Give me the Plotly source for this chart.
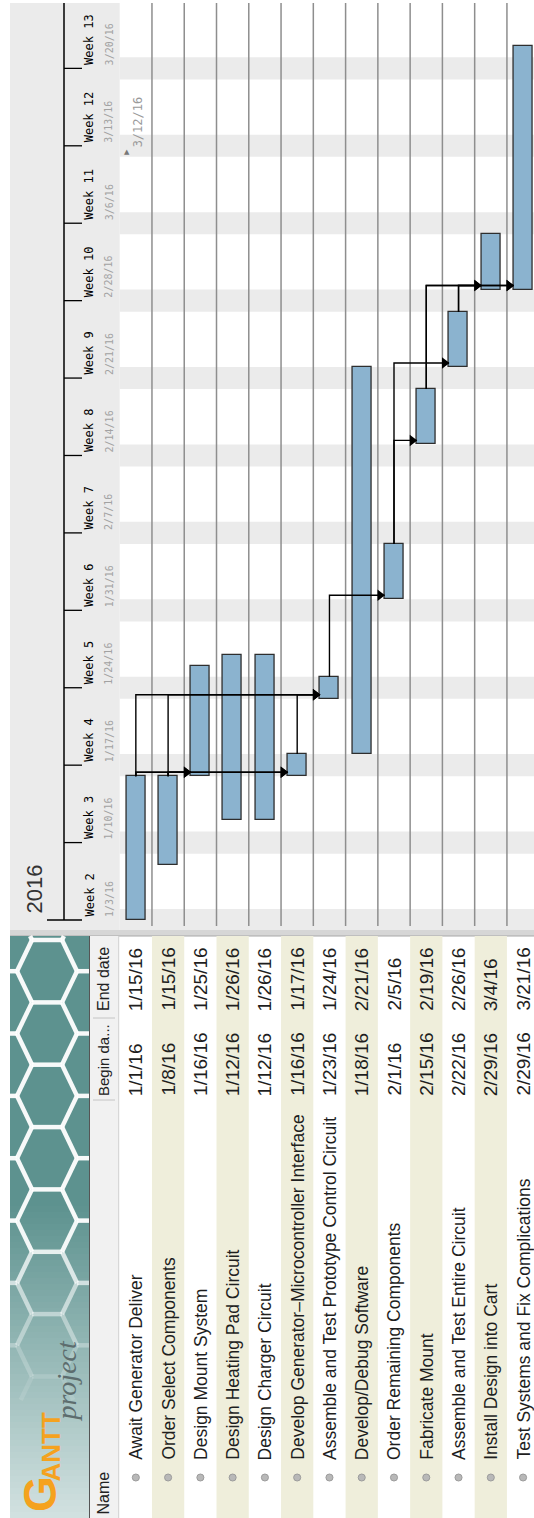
import numpy as np
import pandas as pd
import plotly.graph_objects as go

# ---------------- data ----------------
task_names = [
    "Await Generator Deliver",
    "Order Select Components",
    "Design Mount System",
    "Design Heating Pad Circuit",
    "Design Charger Circuit",
    "Develop Generator\u2013Microcontroller Interface",
    "Assemble and Test Prototype Control Circuit",
    "Develop/Debug Software",
    "Order Remaining Components",
    "Fabricate Mount",
    "Assemble and Test Entire Circuit",
    "Install Design into Cart",
    "Test Systems and Fix Complications",
]
begin_labels = ["1/1/16", "1/8/16", "1/16/16", "1/12/16", "1/12/16", "1/16/16", "1/23/16",
                "1/18/16", "2/1/16", "2/15/16", "2/22/16", "2/29/16", "2/29/16"]
end_labels = ["1/15/16", "1/15/16", "1/25/16", "1/26/16", "1/26/16", "1/17/16", "1/24/16",
              "2/21/16", "2/5/16", "2/19/16", "2/26/16", "3/4/16", "3/21/16"]
begin_dates = ["2016-01-01", "2016-01-08", "2016-01-16", "2016-01-12", "2016-01-12", "2016-01-16",
               "2016-01-23", "2016-01-18", "2016-02-01", "2016-02-15", "2016-02-22", "2016-02-29",
               "2016-02-29"]
end_dates = ["2016-01-15", "2016-01-15", "2016-01-25", "2016-01-26", "2016-01-26", "2016-01-17",
             "2016-01-24", "2016-02-21", "2016-02-05", "2016-02-19", "2016-02-26", "2016-03-04",
             "2016-03-21"]
dep_from = [0, 1, 0, 1, 0, 1, 5, 6, 8, 8, 9, 9, 10, 10]
dep_to = [2, 2, 5, 5, 6, 6, 6, 8, 9, 10, 11, 12, 11, 12]

week_starts = ["2016-01-03", "2016-01-10", "2016-01-17", "2016-01-24", "2016-01-31", "2016-02-07",
               "2016-02-14", "2016-02-21", "2016-02-28", "2016-03-06", "2016-03-13", "2016-03-20"]
week_numbers = [2, 3, 4, 5, 6, 7, 8, 9, 10, 11, 12, 13]
week_date_labels = ["1/3/16", "1/10/16", "1/17/16", "1/24/16", "1/31/16", "2/7/16", "2/14/16",
                    "2/21/16", "2/28/16", "3/6/16", "3/13/16", "3/20/16"]
year_label = "2016"
marker_date = "2016-03-12"
marker_label = "3/12/16"
view_start = "2016-01-03"
column_headers = ["Name", "Begin da...", "End date"]

# ---------------- geometry ----------------
W, H = 534, 1518
PX_DAY = 11.06
ROW_W = 32.27
CHART_LEFT = 119.7
CHART_TOP = 3
CHART_BOTTOM = 930
VIEW_PY = 920


def P(v):
    return v / W


def Q(v):
    return 1 - v / H


FMT = "%Y-%m-%d %H:%M:%S"
vs = pd.Timestamp(view_start)
y_lo = vs - pd.Timedelta(days=(CHART_BOTTOM - VIEW_PY) / PX_DAY)
y_hi = vs + pd.Timedelta(days=(VIEW_PY - CHART_TOP) / PX_DAY)

n = len(task_names)
rows = list(range(n))
starts = pd.to_datetime(begin_dates)
ends = pd.to_datetime(end_dates) + pd.Timedelta(days=1)
vis_starts = [max(s, vs) for s in starts]
dur_ms = [(e - s).total_seconds() * 1000 for s, e in zip(vis_starts, ends)]
half_w = 19 / ROW_W / 2

fig = go.Figure()

fig.add_trace(go.Bar(
    x=rows, y=dur_ms, base=[s.strftime(FMT) for s in vis_starts],
    width=2 * half_w,
    marker=dict(color="#8bb3cf", line=dict(color="#2e2e2e", width=1.3)),
    hoverinfo="skip",
))

# dependency lines
lx, ly, ax, ay = [], [], [], []
for p, s in zip(dep_from, dep_to):
    level = starts[s] + pd.Timedelta(hours=8.7)
    lx += [p, p, s - half_w, None]
    ly += [ends[p].strftime(FMT), level.strftime(FMT), level.strftime(FMT), None]
    ax.append(s - half_w - 4.5 / ROW_W)
    ay.append(level.strftime(FMT))
fig.add_trace(go.Scatter(x=lx, y=ly, mode="lines", line=dict(color="black", width=1.4),
                         hoverinfo="skip"))
fig.add_trace(go.Scatter(x=ax, y=ay, mode="markers",
                         marker=dict(symbol="triangle-right", size=10, color="black"),
                         hoverinfo="skip"))

shapes = []
# header background
shapes.append(dict(type="rect", xref="paper", yref="paper", x0=P(10), x1=P(CHART_LEFT),
                   y0=Q(CHART_BOTTOM), y1=Q(CHART_TOP), fillcolor="#ebebeb", line_width=0,
                   layer="below"))
# weekend bands
sat = pd.Timestamp("2016-01-02")
while sat < y_hi:
    shapes.append(dict(type="rect", xref="paper", yref="y", x0=P(CHART_LEFT), x1=1,
                       y0=max(sat, y_lo).strftime(FMT),
                       y1=min(sat + pd.Timedelta(days=2), y_hi).strftime(FMT),
                       fillcolor="#ebebeb", line_width=0, layer="below"))
    sat += pd.Timedelta(days=7)
# row separators
for i in range(n - 1):
    shapes.append(dict(type="line", xref="x", yref="paper", x0=i + 0.5, x1=i + 0.5,
                       y0=Q(CHART_BOTTOM - 4), y1=Q(CHART_TOP), line=dict(color="#8e8e8e", width=1.5),
                       layer="below"))
# timeline header lines
shapes.append(dict(type="line", xref="paper", yref="paper", x0=P(64), x1=P(64),
                   y0=Q(VIEW_PY), y1=Q(CHART_TOP), line=dict(color="black", width=1.5)))
for d in week_starts[1:]:
    shapes.append(dict(type="line", xref="paper", yref="y", x0=P(64), x1=P(82), y0=d, y1=d,
                       line=dict(color="black", width=1.3)))
shapes.append(dict(type="line", xref="paper", yref="y", x0=P(47), x1=P(82), y0=view_start,
                   y1=view_start, line=dict(color="black", width=1.3)))

# divider between chart and table
shapes.append(dict(type="rect", xref="paper", yref="paper", x0=P(10), x1=1, y0=Q(936), y1=Q(930),
                   fillcolor="#d6d6d6", line_width=0))
shapes.append(dict(type="line", xref="paper", yref="paper", x0=P(10), x1=1, y0=Q(936), y1=Q(936),
                   line=dict(color="#a8a8a8", width=1)))

# table: logo background gradient
c0 = np.array([93, 146, 143])
c1 = np.array([212, 227, 226])
for p0 in range(936, 1518, 6):
    t = 0.0 if p0 < 1200 else min(1.0, (p0 - 1200) / (1518 - 1200))
    c = (c0 + (c1 - c0) * t).astype(int)
    shapes.append(dict(type="rect", xref="paper", yref="paper", x0=P(10), x1=P(89),
                       y0=Q(min(p0 + 6.5, H)), y1=Q(p0), fillcolor=f"rgb({c[0]},{c[1]},{c[2]})",
                       line_width=0))


# honeycomb decoration
def clip(x0, y0, x1, y1, xmin, xmax, ymin, ymax):
    dx, dy = x1 - x0, y1 - y0
    u0, u1 = 0.0, 1.0
    for pp, qq in ((-dx, x0 - xmin), (dx, xmax - x0), (-dy, y0 - ymin), (dy, ymax - y0)):
        if pp == 0:
            if qq < 0:
                return None
        else:
            r = qq / pp
            if pp < 0:
                u0 = max(u0, r)
            else:
                u1 = min(u1, r)
    if u0 > u1:
        return None
    return x0 + u0 * dx, y0 + u0 * dy, x0 + u1 * dx, y0 + u1 * dy


RX, RY = 30, 36
edges = set()
for col in range(-1, 4):
    for rw in range(-1, 9):
        cx = 2 + col * 1.5 * RX
        cy = 940 + rw * np.sqrt(3) * RY + (col % 2) * np.sqrt(3) * RY / 2
        pts = [(round(cx + RX * np.cos(np.pi / 3 * k), 1), round(cy + RY * np.sin(np.pi / 3 * k), 1))
               for k in range(6)]
        for k in range(6):
            edges.add(tuple(sorted([pts[k], pts[(k + 1) % 6]])))
for (a, b) in edges:
    seg = clip(a[0], a[1], b[0], b[1], 10, 89, 936, 1400)
    if seg is None:
        continue
    x0, y0, x1, y1 = seg
    if abs(x1 - x0) + abs(y1 - y0) < 1:
        continue
    mid = (y0 + y1) / 2
    alpha = 0.95 if mid < 1230 else max(0.12, 0.95 - (mid - 1230) / 180)
    shapes.append(dict(type="line", xref="paper", yref="paper", x0=P(x0), x1=P(x1), y0=Q(y0),
                       y1=Q(y1), line=dict(color=f"rgba(255,255,255,{alpha:.2f})", width=4.5)))

shapes.append(dict(type="line", xref="paper", yref="paper", x0=P(89.5), x1=P(89.5), y0=0, y1=Q(936),
                   line=dict(color="#555555", width=1)))
# header column
shapes.append(dict(type="rect", xref="paper", yref="paper", x0=P(90), x1=P(CHART_LEFT - 1),
                   y0=0, y1=Q(936), fillcolor="#f1f1f1", line_width=0))
shapes.append(dict(type="line", xref="paper", yref="paper", x0=P(CHART_LEFT - 1), x1=P(CHART_LEFT - 1),
                   y0=0, y1=Q(936), line=dict(color="#d0d0d0", width=1)))
for sep in (1100, 1018):
    shapes.append(dict(type="line", xref="paper", yref="paper", x0=P(93), x1=P(115), y0=Q(sep),
                       y1=Q(sep), line=dict(color="#c4c4c4", width=1)))
# alternating row backgrounds
for i in range(n):
    if i % 2 == 1:
        shapes.append(dict(type="rect", xref="x", yref="paper", x0=i - 0.5, x1=i + 0.5, y0=0,
                           y1=Q(936), fillcolor="#efeedb", line_width=0))
# bullets
for i in range(n):
    shapes.append(dict(type="circle", xref="x", yref="paper", x0=i - 0.11, x1=i + 0.11,
                       y0=Q(1481), y1=Q(1474), fillcolor="#b8b8b8", line=dict(color="#9c9c9c", width=1)))

annotations = []
SANS = "Liberation Sans, Arial, sans-serif"
MONO = "DejaVu Sans Mono, monospace"
# week labels
for d, wn, dl in zip(week_starts, week_numbers, week_date_labels):
    annotations.append(dict(xref="paper", yref="y", x=P(89), y=d, text=f"Week {wn}", showarrow=False,
                            textangle=-90, xanchor="center", yanchor="bottom", yshift=1,
                            font=dict(family=MONO, size=12, color="#000000")))
    annotations.append(dict(xref="paper", yref="y", x=P(109), y=d, text=dl, showarrow=False,
                            textangle=-90, xanchor="center", yanchor="bottom", yshift=1,
                            font=dict(family=MONO, size=10, color="#a2a2a2")))
annotations.append(dict(xref="paper", yref="paper", x=P(34), y=Q(916), text=year_label, showarrow=False,
                        textangle=-90, xanchor="center", yanchor="bottom",
                        font=dict(family=SANS, size=22, color="#333333")))
# marker
annotations.append(dict(xref="paper", yref="y", x=P(127), y=marker_date, text="\u25b2", showarrow=False,
                        xanchor="center", yanchor="middle", yshift=5,
                        font=dict(family="DejaVu Sans", size=7, color="#777777")))
annotations.append(dict(xref="paper", yref="y", x=P(138), y=marker_date, text=marker_label, showarrow=False,
                        textangle=-90, xanchor="center", yanchor="bottom", yshift=7,
                        font=dict(family=MONO, size=12, color="#9a9a9a")))
# column headers
for txt, base, fs in zip(column_headers, (1517, 1098, 1013), (16, 15, 16)):
    annotations.append(dict(xref="paper", yref="paper", x=P(103), y=Q(base), text=txt, showarrow=False,
                            textangle=-90, xanchor="center", yanchor="bottom",
                            font=dict(family=SANS, size=fs, color="#222222")))
# table rows
for i in range(n):
    annotations.append(dict(xref="x", yref="paper", x=i, y=Q(1462), text=task_names[i], showarrow=False,
                            textangle=-90, xanchor="center", yanchor="bottom",
                            font=dict(family=SANS, size=17.5, color="#1e1e1e")))
    annotations.append(dict(xref="x", yref="paper", x=i, y=Q(1098), text=begin_labels[i], showarrow=False,
                            textangle=-90, xanchor="center", yanchor="bottom",
                            font=dict(family=SANS, size=19, color="#1e1e1e")))
    annotations.append(dict(xref="x", yref="paper", x=i, y=Q(1013), text=end_labels[i], showarrow=False,
                            textangle=-90, xanchor="center", yanchor="bottom",
                            font=dict(family=SANS, size=19, color="#1e1e1e")))
# logo text
annotations.append(dict(xref="paper", yref="paper", x=P(66), y=Q(1424), text="<i>project</i>",
                        showarrow=False, textangle=-90, xanchor="center", yanchor="bottom",
                        font=dict(family="Liberation Serif, serif", size=28, color="#5d6d6e")))
annotations.append(dict(xref="paper", yref="paper", x=P(40), y=Q(1514), text="<b>G</b>",
                        showarrow=False, textangle=-90, xanchor="center", yanchor="bottom",
                        font=dict(family=SANS, size=46, color="#f5a21e")))
annotations.append(dict(xref="paper", yref="paper", x=P(50), y=Q(1484), text="<b>ANTT</b>",
                        showarrow=False, textangle=-90, xanchor="center", yanchor="bottom",
                        font=dict(family=SANS, size=26, color="#f5a21e")))

fig.update_layout(
    width=W, height=H, margin=dict(l=0, r=0, t=0, b=0),
    paper_bgcolor="white", plot_bgcolor="rgba(0,0,0,0)", showlegend=False,
    bargap=0,
    xaxis=dict(domain=[P(CHART_LEFT), 1], range=[-0.5, -0.5 + (W - CHART_LEFT) / ROW_W],
               visible=False, fixedrange=True),
    yaxis=dict(domain=[Q(CHART_BOTTOM), Q(CHART_TOP)], type="date",
               range=[y_lo.strftime(FMT), y_hi.strftime(FMT)], visible=False, fixedrange=True),
    shapes=shapes, annotations=annotations,
)
fig.write_html("out.html", config={"displayModeBar": False},
               post_script="document.body.style.margin='0';document.body.style.overflow='hidden';")
